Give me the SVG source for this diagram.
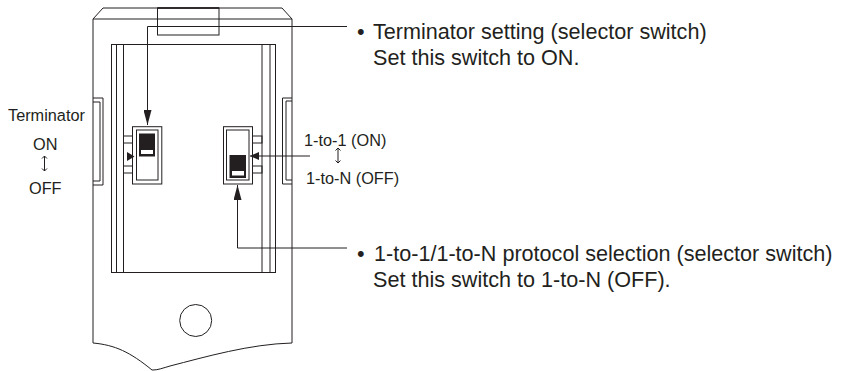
<svg xmlns="http://www.w3.org/2000/svg" width="849" height="371" viewBox="0 0 849 371">
<style>
.l{fill:none;stroke:#231f20;stroke-width:1}
.t{fill:#231f20;font-family:"Liberation Sans",Arial,sans-serif}
.b{font-size:21.6px}
.s{font-size:16.3px}
.c{stroke:#231f20;stroke-width:1;fill:none}
.k{fill:#231f20}
</style>
<defs>
<marker id="a" markerUnits="userSpaceOnUse" markerWidth="15" markerHeight="8" refX="15" refY="4" orient="auto" viewBox="0 0 15 8"><path d="M0 0L15 4L0 8Z" fill="#231f20"/></marker>
<marker id="h" markerUnits="userSpaceOnUse" markerWidth="9" markerHeight="8" refX="9" refY="4" orient="auto" viewBox="0 0 9 8"><path d="M0 0L9 4L0 8Z" fill="#231f20"/></marker>
</defs>
<g id="body">
<path class="l" d="M93 343V19L103 8H282L292 19V343C250 344 205 357 170 366C163 368 158 370 153 370H152C130 352 115 345 93 343Z"/>
<path class="l" d="M93 19H292"/>
<rect class="l" x="157.500" y="8" width="61.500" height="27"/>
<path class="l" d="M157.500 8H219" style="stroke-width:1.500"/>
<rect class="l" x="111.500" y="44.500" width="164" height="228"/>
<path class="l" d="M116.500 44.500V272.500M123.500 44.500V272.500M262 44.500V272.500M270 44.500V272.500"/>
<circle class="l" cx="195.700" cy="320.500" r="16"/>
</g>
<g id="left-tab"><path class="l" d="M93 98H103V185H93M93 102H100V181H93"/></g>
<g id="right-tab"><path class="l" d="M292 98H282.500V184H292M292 101H286V180H292"/></g>
<g id="terminator-switch">
<rect class="l" x="123.500" y="136" width="9" height="7"/>
<rect class="l" x="123.500" y="166" width="9" height="7"/>
<rect class="l" x="132.500" y="126.700" width="29.300" height="57.300"/>
<rect class="l" x="136.500" y="130" width="21.500" height="50"/>
<rect class="k" x="139" y="133.500" width="16" height="23"/>
<rect x="141" y="150" width="12" height="4" fill="#fff"/>
<path class="k" d="M127 152L134.500 156.500L127 161Z"/>
</g>
<g id="protocol-switch">
<rect class="l" x="252.500" y="136" width="9.500" height="7"/>
<rect class="l" x="252.500" y="166" width="9.500" height="7"/>
<rect class="l" x="223.500" y="126.700" width="29" height="57.300"/>
<rect class="l" x="226.500" y="130" width="22.500" height="50"/>
<rect class="k" x="229.500" y="155" width="16.500" height="23"/>
<rect x="232" y="171" width="12" height="4.500" fill="#fff"/>
</g>
<g id="connectors">
<path class="c" d="M347 26.500H147.500V125" marker-end="url(#a)"/>
<path class="c" d="M347 248H237.500V185" marker-end="url(#a)"/>
<path class="c" d="M310 156H250" marker-end="url(#h)"/>
</g>
<g id="labels">
<text class="t s" x="8" y="120.500">Terminator</text>
<text class="t s" x="33" y="150">ON</text>
<path class="c" d="M44.500 156V171M42 158.500L44.500 156L47 158.500M42 168.500L44.500 171L47 168.500"/>
<text class="t s" x="29" y="194">OFF</text>
<text class="t s" x="304" y="146">1-to-1 (ON)</text>
<path class="c" d="M338 148V163M335.500 150.500L338 148L340.500 150.500M335.500 160.500L338 163L340.500 160.500"/>
<text class="t s" x="306" y="184">1-to-N (OFF)</text>
<text class="t b" y="38.500"><tspan x="357">•</tspan><tspan x="373">Terminator setting (selector switch)</tspan></text>
<text class="t b" x="373" y="64.500">Set this switch to ON.</text>
<text class="t b" y="261"><tspan x="357">•</tspan><tspan x="374">1-to-1/1-to-N protocol selection (selector switch)</tspan></text>
<text class="t b" x="373" y="286.500">Set this switch to 1-to-N (OFF).</text>
</g>
</svg>
